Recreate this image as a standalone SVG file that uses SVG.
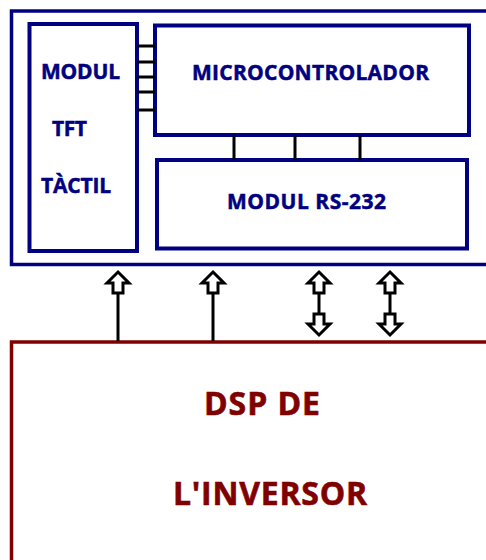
<svg xmlns="http://www.w3.org/2000/svg" width="486" height="560" viewBox="0 0 486 560">
<style>
.blue{fill:none;stroke:#000080;}
.red{fill:none;stroke:#800000;}
.tb{font-family:"Open Sans","Liberation Sans",sans-serif;font-weight:bold;fill:#000080;stroke:#000080;stroke-width:0.5;}
.tr{font-family:"Open Sans","Liberation Sans",sans-serif;font-weight:bold;fill:#800000;stroke:#800000;stroke-width:0.6;}
.wire{stroke:#000;stroke-width:3;fill:none;}
.arr{fill:#fff;stroke:#000;stroke-width:3;stroke-linejoin:miter;}
</style>
<defs>
<path id="up" class="arr" d="M0,-11 L11,0 L5,0 L5,10 L-5,10 L-5,0 L-11,0 Z"/>
<path id="down" class="arr" d="M0,11 L11,0 L5,0 L5,-10 L-5,-10 L-5,0 L-11,0 Z"/>
</defs>
<rect x="0" y="0" width="486" height="560" fill="#fff"/>
<g id="control-board">
<rect class="blue" x="11.5" y="11" width="480" height="253.5" stroke-width="3.5"/>
</g>
<g id="modul-tft">
<rect class="blue" x="29.5" y="24" width="107.5" height="227" stroke-width="4"/>
<text class="tb" x="41" y="79" font-size="21" textLength="79">MODUL</text>
<text class="tb" x="52" y="136" font-size="21" textLength="35">TFT</text>
<text class="tb" x="41" y="193" font-size="21" textLength="70">TÀCTIL</text>
</g>
<g id="microcontrolador">
<rect class="blue" x="155" y="25.5" width="314" height="109.5" stroke-width="4"/>
<text class="tb" x="192" y="80" font-size="21" textLength="237">MICROCONTROLADOR</text>
</g>
<g id="modul-rs232">
<rect class="blue" x="157" y="160" width="310" height="88.5" stroke-width="4"/>
<text class="tb" x="227" y="209" font-size="21" textLength="159">MODUL RS-232</text>
</g>
<g id="dsp-inversor">
<rect class="red" x="11.5" y="342" width="480" height="230" stroke-width="3.5"/>
<text class="tr" x="204" y="415" font-size="32" textLength="116">DSP DE</text>
<text class="tr" x="173" y="505" font-size="32" textLength="194">L'INVERSOR</text>
</g>
<g id="connectors">
<path class="wire" d="M137,46H155M137,62H155M137,77H155M137,92H155M137,110H155"/>
<path class="wire" d="M234,135V160M295,135V160M360,135V160"/>
<path class="wire" d="M118,294V341M213,294V341M319,293V315M390,293V315"/>
<use href="#up" x="118" y="283"/>
<use href="#up" x="213" y="283"/>
<use href="#up" x="319" y="283"/>
<use href="#up" x="390" y="283"/>
<use href="#down" x="319" y="324"/>
<use href="#down" x="390" y="324"/>
</g>
</svg>
